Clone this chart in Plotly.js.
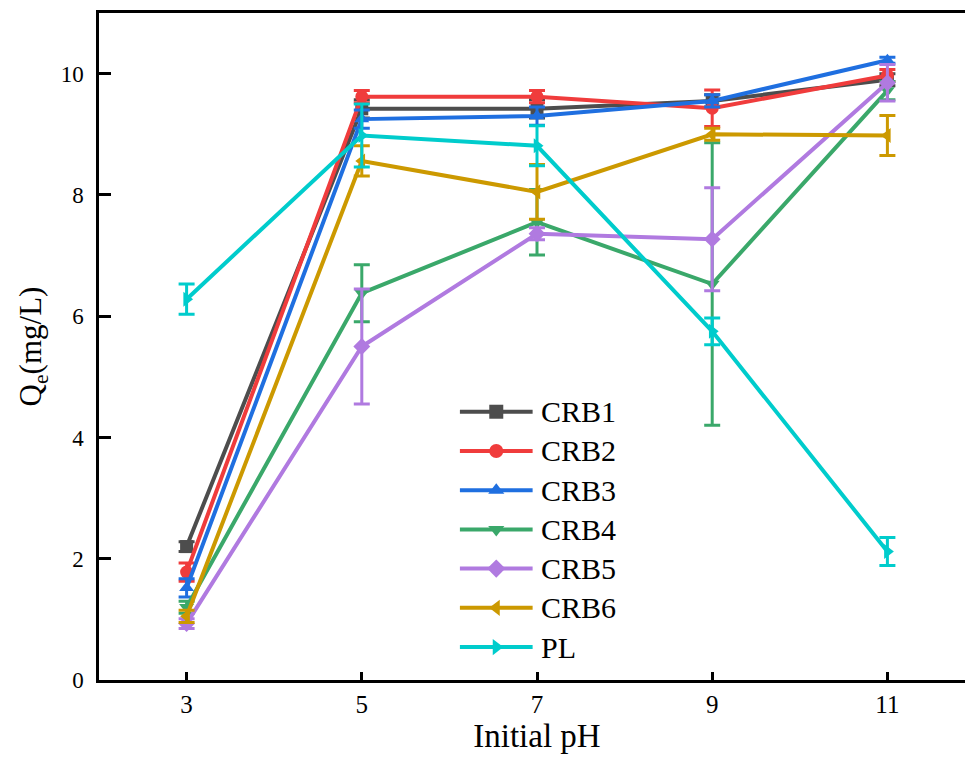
<!DOCTYPE html>
<html>
<head>
<meta charset="utf-8">
<script src="https://cdn.plot.ly/plotly-3.0.1.min.js"></script>
<style>
html,body{margin:0;padding:0;overflow:hidden;background:#fff;}
#chart{width:985px;height:757px;}
</style>
</head>
<body>
<div id="chart"></div>
<script>
const pH = [3, 5, 7, 9, 11];
const seriesNames = ["CRB1", "CRB2", "CRB3", "CRB4", "CRB5", "CRB6", "PL"];
const CRB1 = [2.20, 9.42, 9.42, 9.55, 9.90];
const CRB1_err = [0.08, 0.15, 0.15, 0.10, 0.10];
const CRB2 = [1.78, 9.62, 9.62, 9.43, 9.97];
const CRB2_err = [0.15, 0.10, 0.10, 0.30, 0.10];
const CRB3 = [1.52, 9.25, 9.30, 9.55, 10.22];
const CRB3_err = [0.15, 0.15, 0.15, 0.10, 0.05];
const CRB4 = [1.20, 6.38, 7.55, 6.53, 9.72];
const CRB4_err = [0.10, 0.47, 0.54, 2.33, 0.15];
const CRB5 = [0.93, 5.50, 7.36, 7.27, 9.85];
const CRB5_err = [0.08, 0.95, 0.10, 0.85, 0.30];
const CRB6 = [1.05, 8.56, 8.05, 9.00, 8.98];
const CRB6_err = [0.10, 0.25, 0.45, 0.10, 0.33];
const PL = [6.28, 8.98, 8.81, 5.75, 2.12];
const PL_err = [0.25, 0.52, 0.33, 0.22, 0.23];
const xTickVals = [3, 5, 7, 9, 11];
const yTickVals = [0, 2, 4, 6, 8, 10];

const values = [CRB1, CRB2, CRB3, CRB4, CRB5, CRB6, PL];
const errors = [CRB1_err, CRB2_err, CRB3_err, CRB4_err, CRB5_err, CRB6_err, PL_err];
const colors = ["#4d4d4d", "#f03c3c", "#1f6fe0", "#3aa86a", "#b07ae0", "#cc9900", "#00cccc"];
const symbols = ["square", "circle", "triangle-up", "triangle-down", "diamond", "triangle-left", "triangle-right"];

const font = "'Liberation Serif', 'Times New Roman', serif";

const traces = seriesNames.map((n, i) => ({
  type: "scatter",
  mode: "lines+markers",
  name: n,
  x: pH,
  y: values[i],
  showlegend: false,
  line: {color: colors[i], width: 4},
  marker: {color: colors[i], symbol: symbols[i], size: 13},
  error_y: {type: "data", array: errors[i], visible: true, color: colors[i], thickness: 3, width: 8}
}));

// Legend drawn on a hidden overlay axis pair spanning the plot area (0..1)
const legX0 = 0.412, legX1 = 0.495, legTop = 0.4022, legStep = 0.0588, legTextX = 0.502;
const annotations = [];
seriesNames.forEach((n, i) => {
  const yy = legTop - i * legStep;
  traces.push({
    type: "scatter", mode: "lines", xaxis: "x2", yaxis: "y2",
    x: [legX0, legX1], y: [yy, yy],
    showlegend: false, hoverinfo: "skip",
    line: {color: colors[i], width: 4}
  });
  traces.push({
    type: "scatter", mode: "markers", xaxis: "x2", yaxis: "y2",
    x: [(legX0 + legX1) / 2], y: [yy],
    showlegend: false, hoverinfo: "skip",
    marker: {color: colors[i], symbol: symbols[i], size: 14}
  });
  annotations.push({
    xref: "paper", yref: "paper", x: legTextX, y: yy, xanchor: "left", yanchor: "middle",
    text: n, showarrow: false, font: {family: font, size: 30, color: "#000"}
  });
});

const layout = {
  width: 985, height: 757,
  margin: {l: 99, r: 10, t: 13, b: 77},
  paper_bgcolor: "#fff", plot_bgcolor: "#fff",
  showlegend: false,
  annotations: annotations,
  xaxis: {
    range: [2, 12], tickvals: xTickVals, ticktext: xTickVals.map(String),
    ticks: "inside", ticklen: 8, tickwidth: 3, tickcolor: "#000",
    showline: true, linewidth: 3, linecolor: "#000", mirror: true,
    showgrid: false, zeroline: false,
    tickfont: {family: font, size: 25, color: "#000"},
    title: {text: "Initial pH", font: {family: font, size: 33, color: "#000"}, standoff: 6}
  },
  yaxis: {
    range: [0, 11], tickvals: yTickVals, ticktext: yTickVals.map(v => String(v) + "\u2004"),
    ticks: "inside", ticklen: 12, tickwidth: 3, tickcolor: "#000",
    showline: true, linewidth: 3, linecolor: "#000", mirror: true,
    showgrid: false, zeroline: false,
    tickfont: {family: font, size: 23, color: "#000"},
    title: {text: "Q<sub>e</sub>(mg/L)", font: {family: font, size: 31, color: "#000"}, standoff: 10}
  },
  xaxis2: {overlaying: "x", anchor: "y2", range: [0, 1], visible: false, fixedrange: true},
  yaxis2: {overlaying: "y", anchor: "x2", range: [0, 1], visible: false, fixedrange: true}
};

Plotly.newPlot("chart", traces, layout, {displayModeBar: false, staticPlot: true});
</script>
</body>
</html>
